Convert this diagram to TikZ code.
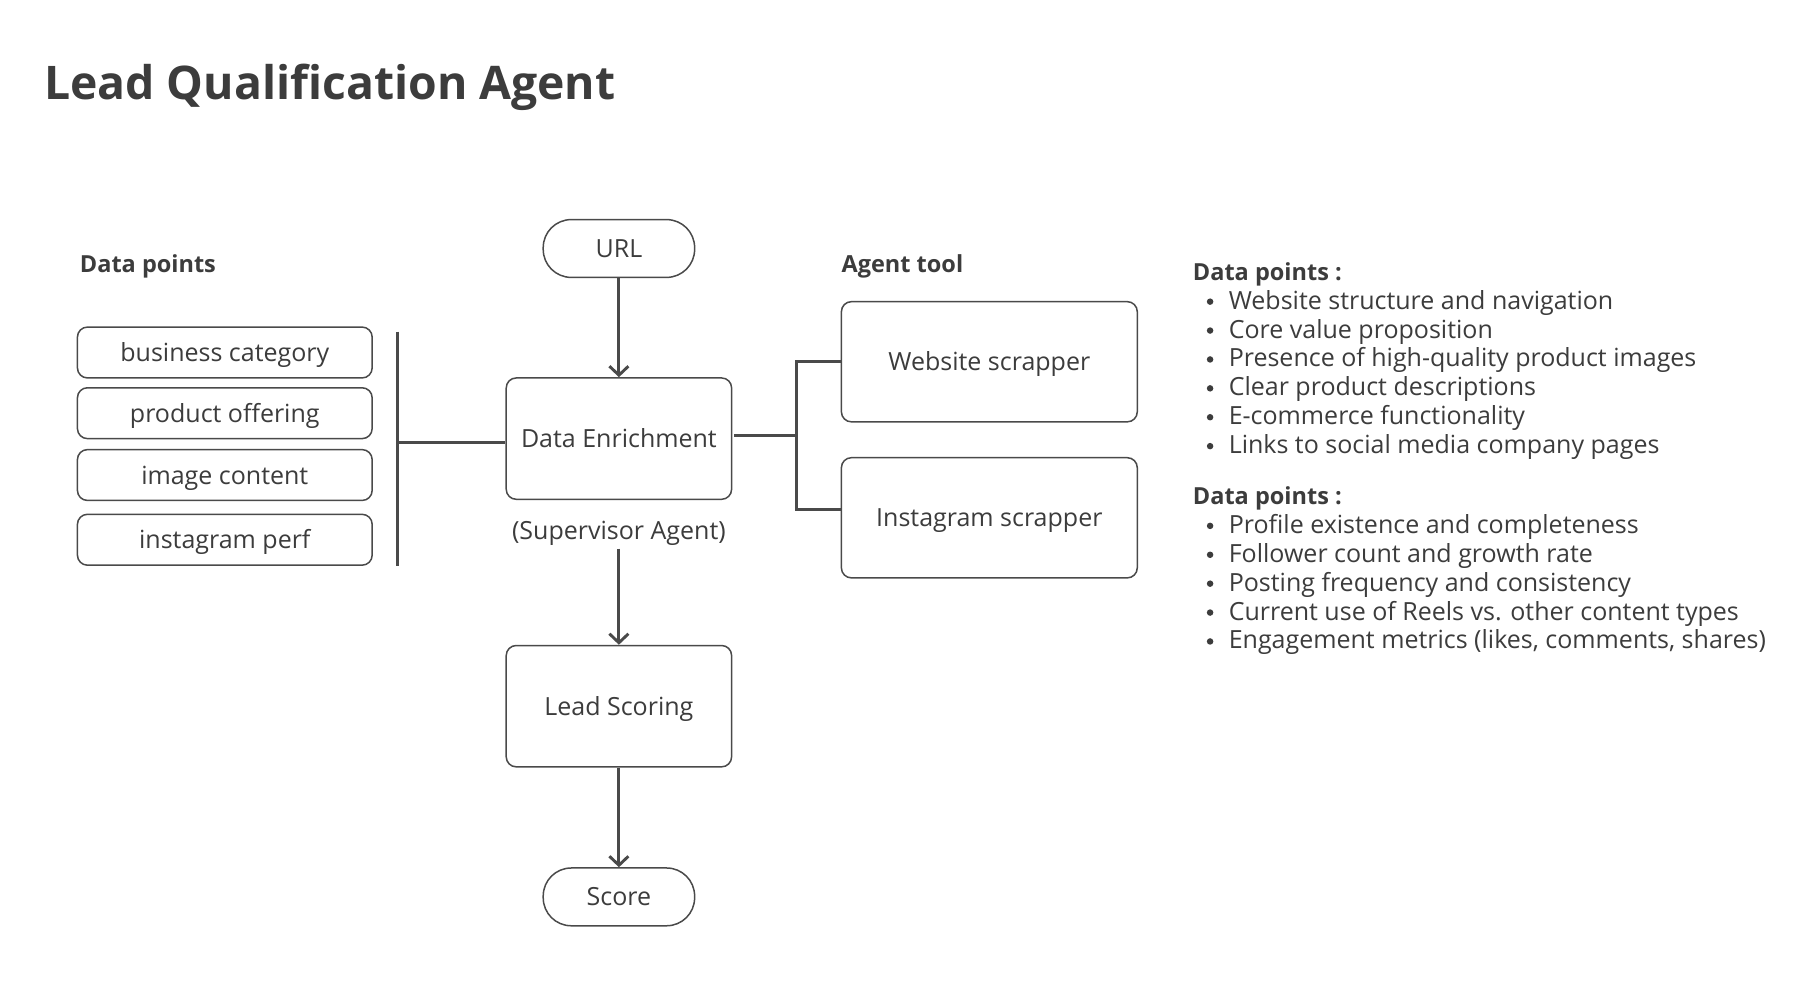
\documentclass[tikz,border=0pt]{standalone}
\usepackage{fontspec}
\setmainfont{Open Sans}
\usetikzlibrary{arrows.meta}
\def\dpx{1.15576pt}
\definecolor{ink}{HTML}{3C3C3C}
\definecolor{edge}{HTML}{4A4A4A}
\begin{document}
\begin{tikzpicture}[x=1.15576pt,y=-1.15576pt,
  box/.style={draw=edge, line width=1.5pt, rounded corners=10pt, text=ink,
    font=\fontsize{25}{30}\selectfont, inner sep=0pt, text height=18pt, text depth=0pt},
  stadium/.style={box, minimum width=131*\dpx, minimum height=50*\dpx, rounded corners=28pt},
  bigbox/.style={box, minimum width=195*\dpx, minimum height=105*\dpx},
  dpbox/.style={box, minimum width=255*\dpx, minimum height=44*\dpx},
  toolbox/.style={box, minimum width=256*\dpx, minimum height=104*\dpx},
  conn/.style={draw=edge, line width=2.9pt},
  arr/.style={conn, -{Straight Barb[length=9pt,width=19pt]}},
  hdr/.style={text=ink, font=\fontsize{23.5}{28}\selectfont\bfseries, inner sep=0pt},
  body/.style={text=ink, font=\fontsize{25}{30}\selectfont, inner sep=0pt},
  dot/.style={circle, fill=ink, inner sep=0pt, minimum size=6.5pt},
  lbl/.style={text=ink, font=\fontsize{25}{30}\selectfont, inner sep=0pt}]
\fill[white] (0,0) rectangle (1567.8,860.04);
\useasboundingbox (0,0) rectangle (1567.8,860.04);

\node[anchor=base west, text=ink, inner sep=0pt, font=\fontsize{46.3}{52}\selectfont\bfseries] (title) at (38,86) {Lead Qualification Agent};

% center column
\node[stadium] (url) at (535.5,215) {URL};
\node[bigbox] (enrich) at (535.5,379.5) {Data Enrichment};
\node[lbl, text height=18pt, text depth=5pt, inner ysep=4pt] (super) at (535.5,461) {(Supervisor Agent)};
\node[bigbox] (scoring) at (535.5,611) {Lead Scoring};
\node[stadium] (score) at (535.5,776) {Score};
\draw[arr] (url) -- (enrich);
\draw[arr] (super.south) -- (scoring.north);
\draw[arr] (scoring) -- (score);

% left data points
\node[hdr, anchor=base west] (dpl) at (69,236) {Data points};
\node[dpbox] (b1) at (194.5,305) {business category};
\node[dpbox] (b2) at (194.5,357.5) {product offering};
\node[dpbox] (b3) at (194.5,411) {image content};
\node[dpbox] (b4) at (194.5,467) {instagram perf};
\coordinate (bartop) at (344,287);
\coordinate (barbot) at (344,490);
\coordinate (barmid) at (344,383);
\draw[conn] (bartop) -- (barbot);
\draw[conn] (barmid) -- (barmid -| enrich.west);

% agent tools
\node[hdr, anchor=base west] (agt) at (728,236) {Agent tool};
\node[toolbox] (web) at (856,313) {Website scrapper};
\node[toolbox] (insta) at (856,448) {Instagram scrapper};
\coordinate (fork) at (689,377);
\coordinate (forktop) at (689,313);
\coordinate (forkbot) at (689,441);
\draw[conn] ([xshift=2pt]fork -| enrich.east) -- (fork);
\draw[conn] (web.west) -- (forktop) -- (forkbot) -- (forkbot -| insta.west);

% right lists
\node[hdr, anchor=base west] (dp1) at (1032,242.5) {Data points :};
\foreach \t [count=\i] in {Website structure and navigation, Core value proposition, Presence of high-quality product images, Clear product descriptions, E-commerce functionality, Links to social media company pages}{
  \node[dot] (wb\i) at (1047,236+25*\i) {};
  \node[body, anchor=base west] (wt\i) at (1063,242.5+25*\i) {\t};
}
\node[hdr, anchor=base west] (dp2) at (1032,436.5) {Data points :};
\foreach \t [count=\i] in {Profile existence and completeness, Follower count and growth rate, Posting frequency and consistency, Current use of Reels vs. other content types, {Engagement metrics (likes, comments, shares)}}{
  \node[dot] (ib\i) at (1047,430+25*\i) {};
  \node[body, anchor=base west] (it\i) at (1063,436.5+25*\i) {\t};
}
\end{tikzpicture}
\end{document}
